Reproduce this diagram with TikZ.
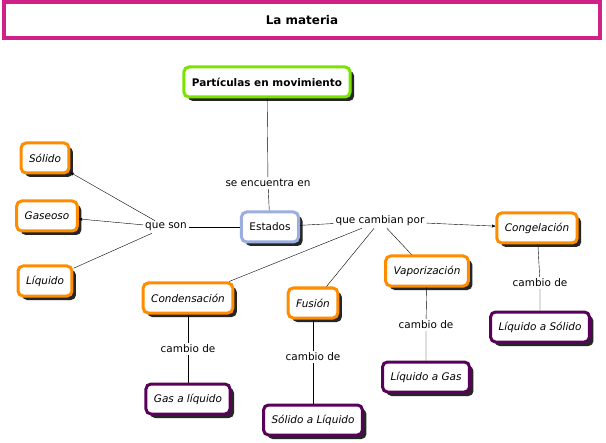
\documentclass[tikz,border=0pt]{standalone}
\usepackage{fontspec}
\setmainfont{DejaVu Sans}
\usetikzlibrary{arrows, shadows}

\begin{document}
\begin{tikzpicture}[x=1bp,y=-1bp,
	every node/.style = {font=\fontsize{10.5}{12}\selectfont},
	>=stealth']

\tikzstyle{box} = [rectangle, rounded corners=5bp, line width=3bp, fill=white, inner xsep=8bp, inner ysep=5bp, minimum height=30bp,
	drop shadow={shadow xshift=4bp, shadow yshift=-4bp, fill=black!85, opacity=1}]
\tikzstyle{state} = [box, draw=orange!90!yellow, font=\fontsize{10.5}{12}\selectfont\itshape]
\tikzstyle{change} = [box, draw=violet!70!black, font=\fontsize{10.5}{12}\selectfont\itshape]
\tikzstyle{lbl} = [fill=white, inner sep=2bp]

\useasboundingbox (0,0) rectangle (606,443);
\fill[white] (0,0) rectangle (606,443);

\node[rectangle, draw=magenta!85!black, line width=3.5bp, minimum width=596bp, minimum height=36bp, font=\fontsize{12}{14}\selectfont\bfseries] (title) at (302,20) {La materia};

\node[box, draw=lime!70!green!90!black, font=\fontsize{10.5}{12}\selectfont\bfseries] (part) at (267,82) {Partículas en movimiento};
\node[box, draw=cyan!40!blue!40] (est) at (270,227) {Estados};

\node[state] (sol) at (45,158) {Sólido};
\node[state] (gas) at (47,216) {Gaseoso};
\node[state] (liq) at (45,281) {Líquido};
\node[state] (cong) at (537,228) {Congelación};
\node[state] (cond) at (188,298) {Condensación};
\node[state] (fus) at (313,303) {Fusión};
\node[state] (vap) at (427,271) {Vaporización};

\node[change] (ls) at (540,327) {Líquido a Sólido};
\node[change] (gl) at (188,399) {Gas a líquido};
\node[change] (sl) at (313,420) {Sólido a Líquido};
\node[change] (lg) at (426,377) {Líquido a Gas};

\node[lbl] (enc) at (268,183) {se encuentra en};
\node[lbl] (son) at (166,227) {que son};
\node[lbl] (camb) at (380,221) {que cambian por};
\node[lbl] (c1) at (540,283) {cambio de};
\node[lbl] (c2) at (188,349) {cambio de};
\node[lbl] (c3) at (313,357) {cambio de};
\node[lbl] (c4) at (426,325) {cambio de};

\draw (part) -- (enc) -- (est);
\draw (est) -- (son);
\draw[->] (son) -- (sol);
\draw[->] (son) -- (gas);
\draw (son) -- (liq);
\draw (est) -- (camb);
\draw[->] (camb) -- (cong);
\draw (camb) -- (cond);
\draw (camb) -- (fus);
\draw (camb) -- (vap);
\draw (cong) -- (c1) -- (ls);
\draw (cond) -- (c2) -- (gl);
\draw (fus) -- (c3) -- (sl);
\draw (vap) -- (c4) -- (lg);
\end{tikzpicture}
\end{document}
